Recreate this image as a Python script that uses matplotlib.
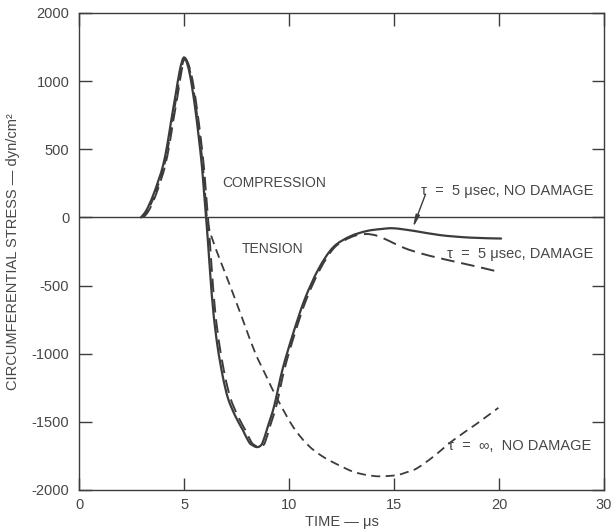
import matplotlib
matplotlib.use("Agg")
import numpy as np
import matplotlib.pyplot as plt
from matplotlib.path import Path
from matplotlib.patches import PathPatch

# Circumferential stress histories (time in microseconds, stress in dyn/cm^2)
t_solid = [2.95, 3.2, 3.5, 3.8, 4.0, 4.2, 4.4, 4.6, 4.8, 4.97, 5.1, 5.25, 5.4, 5.55,
           5.7, 5.85, 5.95, 6.05, 6.15, 6.25, 6.4, 6.6, 6.85, 7.1, 7.45, 7.8, 8.1,
           8.3, 8.45, 8.6, 8.75, 9.0, 9.3, 9.7, 10.2, 10.75, 11.4, 12.1, 12.9, 13.7,
           14.4, 15.0, 16.0, 17.2, 18.6, 20.1]
s_solid = [0, 50, 150, 280, 380, 530, 720, 900, 1080, 1170, 1150, 1070, 940, 780,
           590, 380, 190, 0, -200, -420, -700, -950, -1170, -1330, -1460, -1560, -1650,
           -1675, -1685, -1680, -1650, -1530, -1380, -1110, -850, -600, -380, -220, -140, -100,
           -85, -80, -100, -130, -148, -155]

t_damage = [3.07, 3.32, 3.62, 3.91, 4.1, 4.3, 4.5, 4.7, 4.89, 5.04, 5.17, 5.33, 5.48,
            5.63, 5.79, 5.94, 6.04, 6.14, 6.24, 6.34, 6.49, 6.7, 6.96, 7.22, 7.57, 7.92, 8.21,
            8.4, 8.55, 8.7, 8.86, 9.1, 9.4, 9.79, 10.28, 10.83, 11.48, 12.17, 12.95,
            13.62, 14.2, 14.8, 15.5, 16.3, 17.2, 18.2, 19.2, 20.0]
s_damage = [0, 50, 150, 280, 380, 530, 720, 900, 1080, 1160, 1140, 1060, 940,
            780, 590, 380, 190, 0, -200, -420, -700, -950, -1170, -1330, -1460, -1560, -1650,
            -1675, -1685, -1680, -1650, -1530, -1380, -1110, -850, -600, -380, -220, -145,
            -122, -135, -175, -225, -265, -300, -335, -370, -400]

t_inf = [3.02, 3.27, 3.57, 3.86, 4.06, 4.26, 4.46, 4.66, 4.86, 5.02, 5.14, 5.3, 5.45,
         5.6, 5.75, 5.9, 6.0, 6.09, 6.25, 6.56, 7.19, 7.82, 8.38, 8.9, 9.44, 10.2,
         10.9, 11.63, 12.4, 13.06, 13.7, 14.33, 15.13, 15.6, 16.08, 16.86, 17.82, 18.94, 19.97]
s_inf = [0, 50, 150, 280, 380, 530, 720, 900, 1080, 1165, 1145, 1065, 940,
         780, 590, 380, 190, 0, -110, -250, -500, -760, -990, -1160, -1331, -1538,
         -1670, -1757, -1820, -1866, -1890, -1900, -1891, -1870, -1842, -1757, -1635, -1514, -1397]

x_ticks = [0, 5, 10, 15, 20, 25]
x_ticklabels = ["0", "5", "10", "15", "20", "30"]
y_ticks = [1500, 1000, 500, 0, -500, -1000, -1500, -2000]
y_ticklabels = ["2000", "1000", "500", "0", "-500", "-1000", "-1500", "-2000"]

ink = "#3c3c3c"
txt = "#474747"
plt.rcParams["font.family"] = ["Liberation Sans", "DejaVu Sans"]


def smooth_path(xs, ys):
    """Cubic Bezier path through the given points (Catmull-Rom tangents)."""
    p = np.column_stack([xs, ys]).astype(float)
    verts = [p[0]]
    codes = [Path.MOVETO]
    n = len(p)
    for i in range(n - 1):
        p0 = p[i - 1] if i > 0 else p[i]
        p1, p2 = p[i], p[i + 1]
        p3 = p[i + 2] if i + 2 < n else p[i + 1]
        c1 = p1 + (p2 - p0) / 6.0
        c2 = p2 - (p3 - p1) / 6.0
        verts += [c1, c2, p2]
        codes += [Path.CURVE4] * 3
    return Path(verts, codes)


fig = plt.figure(figsize=(6.14, 5.30), dpi=100)
ax = fig.add_axes([0.1287, 0.0755, 0.855, 0.900])

ax.axhline(0, color=ink, lw=1.0)
ax.add_patch(PathPatch(smooth_path(t_solid, s_solid), fill=False, edgecolor=ink,
                       lw=1.6, capstyle="round"))
ax.add_patch(PathPatch(smooth_path(t_damage, s_damage), fill=False, edgecolor=ink,
                       lw=1.4, linestyle=(0, (7, 3.5))))
ax.add_patch(PathPatch(smooth_path(t_inf, s_inf), fill=False, edgecolor=ink,
                       lw=1.3, linestyle=(0, (5, 3))))

ax.set_xlim(0, 25)
ax.set_ylim(-2000, 1500)
ax.set_xticks(x_ticks)
ax.set_xticklabels(x_ticklabels)
ax.set_yticks(y_ticks)
ax.set_yticklabels(y_ticklabels)
ax.tick_params(direction="in", top=True, right=True, length=9, width=1,
               color=ink, labelcolor=txt, labelsize=10.5)
ax.tick_params(axis="y", pad=7)
ax.tick_params(axis="x", pad=6)
for sp in ax.spines.values():
    sp.set_color(ink)
    sp.set_linewidth(1.0)

ax.set_xlabel("TIME — μs", color=txt, fontsize=10.5, labelpad=2)
ax.set_ylabel("CIRCUMFERENTIAL STRESS — dyn/cm²", color=txt, fontsize=10.5, labelpad=8)

fs = 10.5
ax.text(6.8, 250, "COMPRESSION", color=txt, fontsize=10, va="center", ha="left")
ax.text(9.2, -234, "TENSION", color=txt, fontsize=10, va="center", ha="center")
ax.text(24.5, 197, "τ  =  5 μsec, NO DAMAGE", color=txt, fontsize=fs, va="center", ha="right")
ax.text(24.5, -270, "τ  =  5 μsec, DAMAGE", color=txt, fontsize=fs, va="center", ha="right")
ax.text(24.4, -1680, "τ  =  ∞,  NO DAMAGE", color=txt, fontsize=fs, va="center", ha="right")

ax.annotate("", xy=(15.9, -75), xytext=(16.5, 170),
            arrowprops=dict(arrowstyle="-|>,head_length=0.7,head_width=0.12",
                            color=ink, lw=1.0, shrinkA=0, shrinkB=0))

fig.savefig("out.png", dpi=100)
